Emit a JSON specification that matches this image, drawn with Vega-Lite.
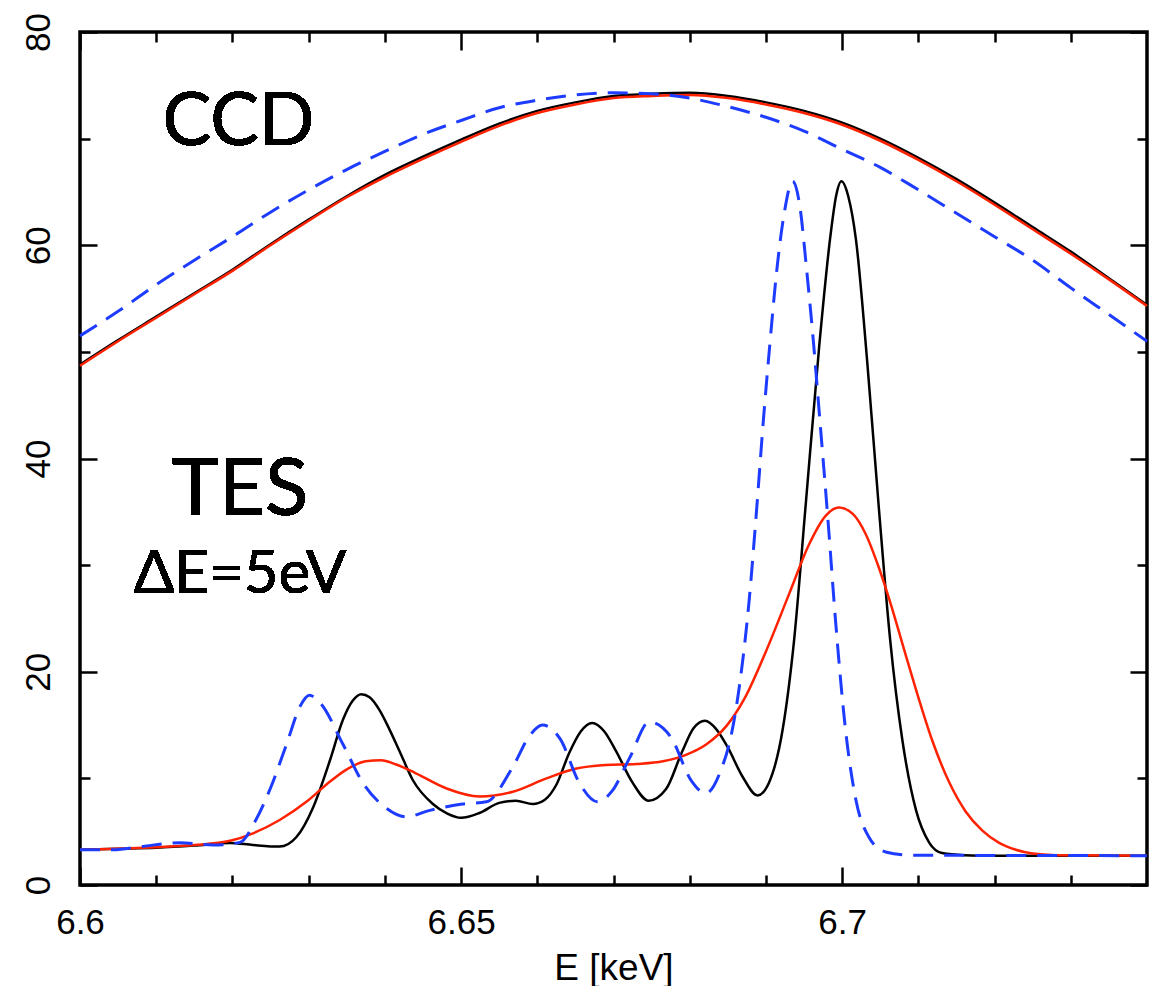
{
  "$schema": "https://vega.github.io/schema/vega-lite/v6.json",
  "width": 1067,
  "height": 853,
  "autosize": {"type": "none"},
  "padding": {"left": 80, "top": 32, "right": 9, "bottom": 101},
  "background": "white",
  "view": {"stroke": "black", "strokeWidth": 3.5},
  "config": {
    "axis": {"grid": false, "domain": false, "labelFont": "Liberation Sans", "titleFont": "Liberation Sans", "labelColor": "black", "titleColor": "black", "tickColor": "black", "tickWidth": 2.5}
  },
  "data": {"values": [
    {"s":"ccd_k","E":6.600,"v":48.8},{"s":"ccd_k","E":6.605,"v":51.1},{"s":"ccd_k","E":6.610,"v":53.3},{"s":"ccd_k","E":6.615,"v":55.5},{"s":"ccd_k","E":6.620,"v":57.7},{"s":"ccd_k","E":6.625,"v":60.1},{"s":"ccd_k","E":6.630,"v":62.4},{"s":"ccd_k","E":6.635,"v":64.6},{"s":"ccd_k","E":6.640,"v":66.6},{"s":"ccd_k","E":6.645,"v":68.3},{"s":"ccd_k","E":6.650,"v":69.9},{"s":"ccd_k","E":6.655,"v":71.4},{"s":"ccd_k","E":6.660,"v":72.6},{"s":"ccd_k","E":6.665,"v":73.4},{"s":"ccd_k","E":6.670,"v":74.0},{"s":"ccd_k","E":6.675,"v":74.2},{"s":"ccd_k","E":6.680,"v":74.3},{"s":"ccd_k","E":6.685,"v":74.0},{"s":"ccd_k","E":6.690,"v":73.4},{"s":"ccd_k","E":6.695,"v":72.6},{"s":"ccd_k","E":6.700,"v":71.5},{"s":"ccd_k","E":6.705,"v":70.0},{"s":"ccd_k","E":6.710,"v":68.2},{"s":"ccd_k","E":6.715,"v":66.2},{"s":"ccd_k","E":6.720,"v":64.0},{"s":"ccd_k","E":6.725,"v":61.7},{"s":"ccd_k","E":6.730,"v":59.4},{"s":"ccd_k","E":6.735,"v":56.9},{"s":"ccd_k","E":6.740,"v":54.4},
    {"s":"ccd_r","E":6.600,"v":48.7},{"s":"ccd_r","E":6.605,"v":51.0},{"s":"ccd_r","E":6.610,"v":53.2},{"s":"ccd_r","E":6.615,"v":55.4},{"s":"ccd_r","E":6.620,"v":57.6},{"s":"ccd_r","E":6.625,"v":60.0},{"s":"ccd_r","E":6.630,"v":62.3},{"s":"ccd_r","E":6.635,"v":64.5},{"s":"ccd_r","E":6.640,"v":66.4},{"s":"ccd_r","E":6.645,"v":68.1},{"s":"ccd_r","E":6.650,"v":69.7},{"s":"ccd_r","E":6.655,"v":71.2},{"s":"ccd_r","E":6.660,"v":72.4},{"s":"ccd_r","E":6.665,"v":73.2},{"s":"ccd_r","E":6.670,"v":73.8},{"s":"ccd_r","E":6.675,"v":74.0},{"s":"ccd_r","E":6.680,"v":74.1},{"s":"ccd_r","E":6.685,"v":73.8},{"s":"ccd_r","E":6.690,"v":73.2},{"s":"ccd_r","E":6.695,"v":72.4},{"s":"ccd_r","E":6.700,"v":71.3},{"s":"ccd_r","E":6.705,"v":69.8},{"s":"ccd_r","E":6.710,"v":68.0},{"s":"ccd_r","E":6.715,"v":66.0},{"s":"ccd_r","E":6.720,"v":63.8},{"s":"ccd_r","E":6.725,"v":61.5},{"s":"ccd_r","E":6.730,"v":59.2},{"s":"ccd_r","E":6.735,"v":56.8},{"s":"ccd_r","E":6.740,"v":54.3},
    {"s":"ccd_b","E":6.600,"v":51.5},{"s":"ccd_b","E":6.605,"v":53.8},{"s":"ccd_b","E":6.610,"v":56.3},{"s":"ccd_b","E":6.615,"v":58.6},{"s":"ccd_b","E":6.620,"v":60.8},{"s":"ccd_b","E":6.625,"v":63.1},{"s":"ccd_b","E":6.630,"v":65.2},{"s":"ccd_b","E":6.635,"v":67.1},{"s":"ccd_b","E":6.640,"v":68.8},{"s":"ccd_b","E":6.645,"v":70.4},{"s":"ccd_b","E":6.650,"v":71.7},{"s":"ccd_b","E":6.655,"v":72.9},{"s":"ccd_b","E":6.660,"v":73.6},{"s":"ccd_b","E":6.665,"v":74.1},{"s":"ccd_b","E":6.670,"v":74.3},{"s":"ccd_b","E":6.675,"v":74.2},{"s":"ccd_b","E":6.680,"v":73.8},{"s":"ccd_b","E":6.685,"v":73.0},{"s":"ccd_b","E":6.690,"v":72.0},{"s":"ccd_b","E":6.695,"v":70.7},{"s":"ccd_b","E":6.700,"v":69.0},{"s":"ccd_b","E":6.705,"v":67.3},{"s":"ccd_b","E":6.710,"v":65.2},{"s":"ccd_b","E":6.715,"v":63.0},{"s":"ccd_b","E":6.720,"v":60.8},{"s":"ccd_b","E":6.725,"v":58.6},{"s":"ccd_b","E":6.730,"v":56.0},{"s":"ccd_b","E":6.735,"v":53.5},{"s":"ccd_b","E":6.740,"v":51.0},
    {"s":"tes_k","E":6.600,"v":3.3},{"s":"tes_k","E":6.605,"v":3.4},{"s":"tes_k","E":6.610,"v":3.5},{"s":"tes_k","E":6.615,"v":3.7},{"s":"tes_k","E":6.6197,"v":3.95},{"s":"tes_k","E":6.6227,"v":3.75},{"s":"tes_k","E":6.6262,"v":3.6},{"s":"tes_k","E":6.6284,"v":4.5},{"s":"tes_k","E":6.6306,"v":7.3},{"s":"tes_k","E":6.6328,"v":11.7},{"s":"tes_k","E":6.6345,"v":15.5},{"s":"tes_k","E":6.6358,"v":17.3},{"s":"tes_k","E":6.6369,"v":17.9},{"s":"tes_k","E":6.6380,"v":17.6},{"s":"tes_k","E":6.6393,"v":16.4},{"s":"tes_k","E":6.6406,"v":14.6},{"s":"tes_k","E":6.6419,"v":12.6},{"s":"tes_k","E":6.6437,"v":9.8},{"s":"tes_k","E":6.6463,"v":7.6},{"s":"tes_k","E":6.6482,"v":6.7},{"s":"tes_k","E":6.6500,"v":6.3},{"s":"tes_k","E":6.6524,"v":6.75},{"s":"tes_k","E":6.6550,"v":7.7},{"s":"tes_k","E":6.6572,"v":7.9},{"s":"tes_k","E":6.6594,"v":7.6},{"s":"tes_k","E":6.6610,"v":8.0},{"s":"tes_k","E":6.6625,"v":9.4},{"s":"tes_k","E":6.6642,"v":12.4},{"s":"tes_k","E":6.6657,"v":14.4},{"s":"tes_k","E":6.6672,"v":15.2},{"s":"tes_k","E":6.6688,"v":14.4},{"s":"tes_k","E":6.6703,"v":12.6},{"s":"tes_k","E":6.6725,"v":9.6},{"s":"tes_k","E":6.6746,"v":7.9},{"s":"tes_k","E":6.6769,"v":9.0},{"s":"tes_k","E":6.6790,"v":12.5},{"s":"tes_k","E":6.6805,"v":14.7},{"s":"tes_k","E":6.6820,"v":15.4},{"s":"tes_k","E":6.6835,"v":14.6},{"s":"tes_k","E":6.6850,"v":12.9},{"s":"tes_k","E":6.6869,"v":10.2},{"s":"tes_k","E":6.6889,"v":8.4},{"s":"tes_k","E":6.6904,"v":9.6},{"s":"tes_k","E":6.6922,"v":14.6},{"s":"tes_k","E":6.6937,"v":23.0},{"s":"tes_k","E":6.6952,"v":35.5},{"s":"tes_k","E":6.6970,"v":50.6},{"s":"tes_k","E":6.6985,"v":61.1},{"s":"tes_k","E":6.6992,"v":64.6},{"s":"tes_k","E":6.6999,"v":66.0},{"s":"tes_k","E":6.7008,"v":64.6},{"s":"tes_k","E":6.7018,"v":60.6},{"s":"tes_k","E":6.7033,"v":49.0},{"s":"tes_k","E":6.7048,"v":35.5},{"s":"tes_k","E":6.7063,"v":23.0},{"s":"tes_k","E":6.7079,"v":13.6},{"s":"tes_k","E":6.7097,"v":7.0},{"s":"tes_k","E":6.7114,"v":4.0},{"s":"tes_k","E":6.7131,"v":3.0},{"s":"tes_k","E":6.7160,"v":2.8},{"s":"tes_k","E":6.7200,"v":2.75},{"s":"tes_k","E":6.7400,"v":2.75},
    {"s":"tes_r","E":6.600,"v":3.3},{"s":"tes_r","E":6.605,"v":3.4},{"s":"tes_r","E":6.610,"v":3.55},{"s":"tes_r","E":6.6150,"v":3.75},{"s":"tes_r","E":6.6197,"v":4.15},{"s":"tes_r","E":6.6227,"v":4.85},{"s":"tes_r","E":6.6262,"v":6.1},{"s":"tes_r","E":6.6297,"v":7.8},{"s":"tes_r","E":6.6323,"v":9.4},{"s":"tes_r","E":6.6349,"v":10.8},{"s":"tes_r","E":6.6375,"v":11.6},{"s":"tes_r","E":6.6395,"v":11.7},{"s":"tes_r","E":6.6415,"v":11.3},{"s":"tes_r","E":6.6440,"v":10.5},{"s":"tes_r","E":6.6481,"v":9.05},{"s":"tes_r","E":6.6524,"v":8.3},{"s":"tes_r","E":6.6568,"v":8.75},{"s":"tes_r","E":6.6612,"v":10.0},{"s":"tes_r","E":6.6650,"v":10.9},{"s":"tes_r","E":6.6690,"v":11.25},{"s":"tes_r","E":6.6730,"v":11.35},{"s":"tes_r","E":6.6765,"v":11.6},{"s":"tes_r","E":6.6795,"v":12.2},{"s":"tes_r","E":6.6822,"v":13.2},{"s":"tes_r","E":6.6848,"v":14.9},{"s":"tes_r","E":6.6872,"v":17.5},{"s":"tes_r","E":6.6900,"v":21.9},{"s":"tes_r","E":6.6931,"v":27.4},{"s":"tes_r","E":6.6957,"v":32.0},{"s":"tes_r","E":6.6978,"v":34.6},{"s":"tes_r","E":6.6996,"v":35.4},{"s":"tes_r","E":6.7014,"v":34.8},{"s":"tes_r","E":6.7031,"v":32.9},{"s":"tes_r","E":6.7048,"v":29.8},{"s":"tes_r","E":6.7064,"v":26.3},{"s":"tes_r","E":6.7080,"v":22.4},{"s":"tes_r","E":6.7097,"v":18.3},{"s":"tes_r","E":6.7118,"v":13.6},{"s":"tes_r","E":6.7140,"v":9.7},{"s":"tes_r","E":6.7162,"v":6.9},{"s":"tes_r","E":6.7184,"v":5.1},{"s":"tes_r","E":6.7206,"v":3.95},{"s":"tes_r","E":6.7228,"v":3.3},{"s":"tes_r","E":6.7250,"v":2.95},{"s":"tes_r","E":6.7280,"v":2.8},{"s":"tes_r","E":6.7400,"v":2.75},
    {"s":"tes_b","E":6.600,"v":3.3},{"s":"tes_b","E":6.6044,"v":3.3},{"s":"tes_b","E":6.608,"v":3.6},{"s":"tes_b","E":6.6131,"v":3.97},{"s":"tes_b","E":6.6175,"v":3.75},{"s":"tes_b","E":6.6210,"v":4.0},{"s":"tes_b","E":6.6230,"v":6.0},{"s":"tes_b","E":6.6250,"v":9.1},{"s":"tes_b","E":6.6271,"v":13.2},{"s":"tes_b","E":6.6289,"v":16.8},{"s":"tes_b","E":6.6301,"v":17.8},{"s":"tes_b","E":6.6316,"v":17.0},{"s":"tes_b","E":6.6345,"v":13.2},{"s":"tes_b","E":6.6371,"v":9.6},{"s":"tes_b","E":6.6402,"v":7.2},{"s":"tes_b","E":6.6428,"v":6.4},{"s":"tes_b","E":6.6459,"v":7.0},{"s":"tes_b","E":6.6502,"v":7.6},{"s":"tes_b","E":6.6533,"v":7.8},{"s":"tes_b","E":6.6568,"v":11.1},{"s":"tes_b","E":6.6590,"v":14.0},{"s":"tes_b","E":6.6607,"v":15.0},{"s":"tes_b","E":6.6630,"v":13.7},{"s":"tes_b","E":6.6655,"v":9.6},{"s":"tes_b","E":6.6679,"v":7.8},{"s":"tes_b","E":6.6698,"v":8.8},{"s":"tes_b","E":6.6721,"v":11.9},{"s":"tes_b","E":6.6747,"v":15.3},{"s":"tes_b","E":6.6775,"v":13.9},{"s":"tes_b","E":6.6802,"v":9.8},{"s":"tes_b","E":6.6821,"v":8.6},{"s":"tes_b","E":6.6840,"v":10.6},{"s":"tes_b","E":6.6856,"v":14.6},{"s":"tes_b","E":6.6867,"v":19.6},{"s":"tes_b","E":6.6878,"v":26.7},{"s":"tes_b","E":6.6887,"v":34.5},{"s":"tes_b","E":6.6897,"v":43.9},{"s":"tes_b","E":6.6905,"v":50.6},{"s":"tes_b","E":6.6914,"v":57.5},{"s":"tes_b","E":6.6924,"v":63.0},{"s":"tes_b","E":6.6935,"v":66.0},{"s":"tes_b","E":6.6945,"v":63.4},{"s":"tes_b","E":6.6953,"v":58.0},{"s":"tes_b","E":6.6962,"v":51.2},{"s":"tes_b","E":6.6971,"v":43.4},{"s":"tes_b","E":6.6981,"v":34.6},{"s":"tes_b","E":6.6992,"v":24.2},{"s":"tes_b","E":6.7005,"v":14.2},{"s":"tes_b","E":6.7018,"v":8.0},{"s":"tes_b","E":6.7035,"v":4.5},{"s":"tes_b","E":6.7057,"v":3.1},{"s":"tes_b","E":6.7088,"v":2.8},{"s":"tes_b","E":6.7400,"v":2.75}
  ]},
  "layer": [
    {
      "transform": [{"filter": "datum.s == 'ccd_k'"}],
      "mark": {"type": "line", "color": "black", "strokeWidth": 2.5, "interpolate": "monotone"},
      "encoding": {
        "x": {"field": "E", "type": "quantitative", "scale": {"domain": [6.6, 6.74], "nice": false, "zero": false},
              "axis": {"orient": "bottom", "values": [6.6, 6.65, 6.7], "format": ".2~f", "ticks": false, "labelFlush": false, "labelOverlap": false, "labelFontSize": 35, "labelPadding": 20, "title": "E [keV]", "titleFontSize": 37, "titleFontWeight": "normal", "titlePadding": 10}},
        "y": {"field": "v", "type": "quantitative", "scale": {"domain": [0, 80], "nice": false, "zero": true},
              "axis": {"orient": "left", "values": [0, 20, 40, 60, 80], "ticks": false, "labelAngle": -90, "labelPadding": 24, "labelFontSize": 35, "title": null}}
      }
    },
    {
      "transform": [{"filter": "datum.s == 'tes_k'"}],
      "mark": {"type": "line", "color": "black", "strokeWidth": 2.5, "interpolate": "monotone"},
      "encoding": {
        "x": {"field": "E", "type": "quantitative", "axis": {"orient": "bottom", "values": [6.6, 6.65, 6.7], "labels": false, "tickSize": -18, "title": null}},
        "y": {"field": "v", "type": "quantitative", "axis": {"orient": "left", "values": [0, 20, 40, 60, 80], "labels": false, "tickSize": -17, "title": null}}
      }
    },
    {
      "transform": [{"filter": "datum.s == 'ccd_r'"}],
      "mark": {"type": "line", "color": "#ff2200", "strokeWidth": 2.5, "interpolate": "monotone"},
      "encoding": {
        "x": {"field": "E", "type": "quantitative", "axis": {"orient": "bottom", "values": [6.61, 6.62, 6.63, 6.64, 6.66, 6.67, 6.68, 6.69, 6.71, 6.72, 6.73], "labels": false, "tickSize": -10, "title": null}},
        "y": {"field": "v", "type": "quantitative", "axis": {"orient": "left", "values": [10, 30, 50, 70], "labels": false, "tickSize": -10, "title": null}}
      }
    },
    {
      "transform": [{"filter": "datum.s == 'tes_r'"}],
      "mark": {"type": "line", "color": "#ff2200", "strokeWidth": 2.5, "interpolate": "monotone"},
      "encoding": {
        "x": {"field": "E", "type": "quantitative", "axis": {"orient": "top", "values": [6.6, 6.65, 6.7], "labels": false, "tickSize": -18, "title": null}},
        "y": {"field": "v", "type": "quantitative", "axis": {"orient": "right", "values": [0, 20, 40, 60, 80], "labels": false, "tickSize": -17, "title": null}}
      }
    },
    {
      "transform": [{"filter": "datum.s == 'ccd_b'"}],
      "mark": {"type": "line", "color": "#1e3cff", "strokeWidth": 3, "strokeDash": [20, 11], "interpolate": "monotone"},
      "encoding": {
        "x": {"field": "E", "type": "quantitative", "axis": {"orient": "top", "values": [6.61, 6.62, 6.63, 6.64, 6.66, 6.67, 6.68, 6.69, 6.71, 6.72, 6.73], "labels": false, "tickSize": -10, "title": null}},
        "y": {"field": "v", "type": "quantitative", "axis": {"orient": "right", "values": [10, 30, 50, 70], "labels": false, "tickSize": -10, "title": null}}
      }
    },
    {
      "transform": [{"filter": "datum.s == 'tes_b'"}],
      "mark": {"type": "line", "color": "#1e3cff", "strokeWidth": 3, "strokeDash": [20, 11], "interpolate": "monotone"},
      "encoding": {
        "x": {"field": "E", "type": "quantitative", "axis": null},
        "y": {"field": "v", "type": "quantitative", "axis": null}
      }
    },
    {
      "mark": {"type": "text", "font": "Lato", "fontSize": 73, "align": "center", "baseline": "alphabetic", "color": "black"},
      "encoding": {
        "x": {"datum": 6.6208, "type": "quantitative", "axis": null},
        "y": {"datum": 69.4, "type": "quantitative", "axis": null},
        "text": {"value": "CCD"}
      }
    },
    {
      "mark": {"type": "text", "font": "Lato", "fontSize": 80, "align": "center", "baseline": "alphabetic", "color": "black"},
      "encoding": {
        "x": {"datum": 6.6210, "type": "quantitative", "axis": null},
        "y": {"datum": 34.7, "type": "quantitative", "axis": null},
        "text": {"value": "TES"}
      }
    },
    {
      "mark": {"type": "text", "font": "Lato", "fontSize": 60, "align": "center", "baseline": "alphabetic", "color": "black"},
      "encoding": {
        "x": {"datum": 6.6210, "type": "quantitative", "axis": null},
        "y": {"datum": 27.4, "type": "quantitative", "axis": null},
        "text": {"value": "ΔE=5eV"}
      }
    }
  ],
  "resolve": {"axis": {"x": "independent", "y": "independent"}}
}
